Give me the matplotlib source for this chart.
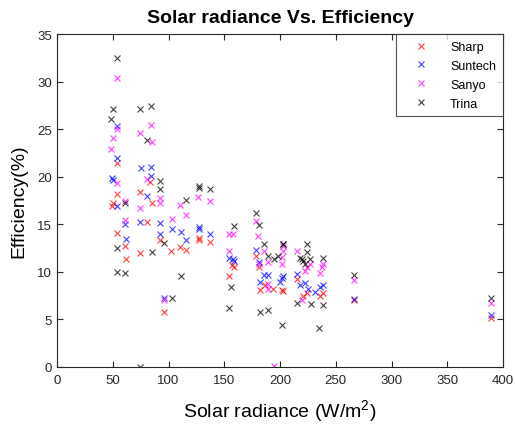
import matplotlib.pyplot as plt

plt.rcParams['font.family'] = ['Liberation Sans', 'DejaVu Sans']
plt.rcParams['mathtext.fontset'] = 'custom'
plt.rcParams['mathtext.rm'] = 'Liberation Sans'

# radiance (W/m^2) and efficiency (%) per panel brand
sharp_x = [49, 50, 53.5, 53.5, 53.5, 61.3, 61.9, 74.4, 74.4, 80.4, 83.4, 85, 92.4, 96,
           102.2, 110.3, 115.4, 127, 127, 137.5, 154.6, 156.7, 159, 178.5, 181.4, 182,
           186.5, 194, 202.4, 201.5, 215.5, 221, 223.9, 236, 238.3, 266.4, 389]
sharp_y = [16.9, 17.2, 21.4, 18.2, 14.1, 12.7, 11.4, 18.4, 12.0, 15.2, 19.4, 17.2, 13.3, 5.8,
           12.2, 12.6, 12.3, 13.6, 13.3, 13.1, 9.6, 10.7, 10.5, 11.7, 10.5, 8.1,
           8.6, 8.2, 8.0, 8.1, 9.3, 7.5, 7.8, 7.5, 7.8, 7.0, 5.1]

suntech_x = [49.3, 50.5, 53.5, 53.5, 53.5, 61.3, 61.9, 75, 74.4, 80.4, 84.3, 84.3, 92.4, 92.4,
             96, 102.9, 111.2, 115.4, 127, 127.5, 137.5, 154.6, 157.5, 159, 178.5, 181.4,
             182, 186, 189.5, 200, 203, 201.5, 215.5, 218, 225, 231, 222, 236, 238.3, 266.4, 389]
suntech_y = [19.9, 19.7, 25.3, 22.0, 16.9, 15.0, 13.5, 20.9, 15.2, 18.0, 21.0, 20.1, 15.1, 14.0,
             7.2, 14.5, 14.2, 13.4, 14.7, 14.5, 14.0, 11.5, 11.4, 11.1, 12.3, 11.0,
             8.9, 9.7, 9.7, 8.9, 9.6, 9.4, 9.8, 8.6, 8.2, 7.9, 8.8, 8.4, 8.6, 7.15, 5.5]

sanyo_x = [48.4, 50.5, 53.5, 53.5, 53.5, 61.3, 61.3, 74.4, 74.4, 80.4, 84.3, 84.9, 92.4, 92.4,
           96, 102.9, 110.3, 115.4, 126.7, 137.5, 154.6, 158.2, 154.6, 178.5, 180.5, 185.6,
           181.4, 189.5, 189.5, 189.5, 194.9, 202.4, 202.4, 201.5, 201.5, 215.5, 219.4, 222.4,
           224, 226.9, 235.9, 237.4, 238.8, 266.4, 389]
sanyo_y = [22.9, 24.1, 30.4, 25.0, 19.3, 17.4, 15.5, 24.6, 16.7, 19.8, 25.4, 23.6, 17.8, 17.2,
           7.0, 15.6, 17.0, 16.0, 17.9, 17.5, 14.0, 14.0, 12.2, 15.3, 13.8, 12.2,
           10.8, 8.7, 11.0, 8.2, 0.1, 12.7, 12.2, 11.6, 10.8, 12.2, 7.0, 10.1,
           10.5, 10.8, 9.9, 10.5, 10.8, 9.1, 6.7]

trina_x = [48.7, 50.5, 53.5, 53.5, 53.5, 61.3, 61.3, 74.7, 80.4, 74.4, 84.3, 85, 92.4, 92.4,
           96, 102.9, 111.2, 115.4, 127, 127.4, 137.5, 154.6, 156, 159, 178.5, 181.4, 182,
           185.6, 189.5, 189.5, 194.6, 198.5, 202, 202.4, 203, 215.5, 218, 219.4, 220.9,
           222.4, 224.5, 224.5, 226.9, 227.5, 235.3, 238.3, 238.3, 266.4, 389]
trina_y = [26.1, 27.1, 32.5, 12.5, 9.96, 17.2, 9.85, 27.1, 23.9, 0.0, 27.4, 12.1, 19.5, 18.7,
           13.0, 7.3, 9.6, 17.6, 19.0, 18.8, 18.7, 6.2, 8.4, 14.8, 16.2, 14.9, 5.8,
           12.9, 11.7, 6.0, 11.3, 11.7, 4.4, 12.9, 12.9, 6.7, 11.5, 11.3, 11.1,
           10.8, 12.1, 12.9, 11.3, 6.6, 4.1, 11.5, 6.5, 9.7, 7.3]

fig = plt.figure(figsize=(5.15, 4.27), dpi=100)
ax = fig.add_axes([0.1107, 0.1382, 0.866, 0.7798])

kw = dict(marker='x', linestyle='none', markersize=4.8, markeredgewidth=0.8, alpha=0.75)
ax.plot(sharp_x, sharp_y, color='red', label='Sharp', **kw)
ax.plot(suntech_x, suntech_y, color='blue', label='Suntech', **kw)
ax.plot(sanyo_x, sanyo_y, color='magenta', label='Sanyo', **kw)
ax.plot(trina_x, trina_y, color='black', label='Trina', **kw)

ax.set_xlim(0, 400)
ax.set_ylim(0, 35)
ax.set_xticks(range(0, 401, 50))
ax.set_yticks(range(0, 36, 5))

gray = '#262626'
for s in ax.spines.values():
    s.set_color(gray)
    s.set_linewidth(0.8)
ax.tick_params(direction='in', top=True, right=True, labelsize=9.5,
               colors=gray, length=4, width=0.8)
ax.tick_params(axis='x', pad=5)

ax.set_title('Solar radiance Vs. Efficiency', fontsize=14, fontweight='bold', pad=9)
ax.set_xlabel('Solar radiance (W/m$^2$)', fontsize=14, labelpad=8)
ax.set_ylabel('Efficiency(%)', fontsize=14, labelpad=7)

leg = ax.legend(loc='upper right', fontsize=9, frameon=True, fancybox=False,
                edgecolor=gray, borderaxespad=0, handlelength=3.0, handletextpad=0.8,
                labelspacing=0.55, borderpad=0.55, markerscale=0.8)
leg.get_frame().set_linewidth(0.8)

fig.savefig('out.png', dpi=100)
